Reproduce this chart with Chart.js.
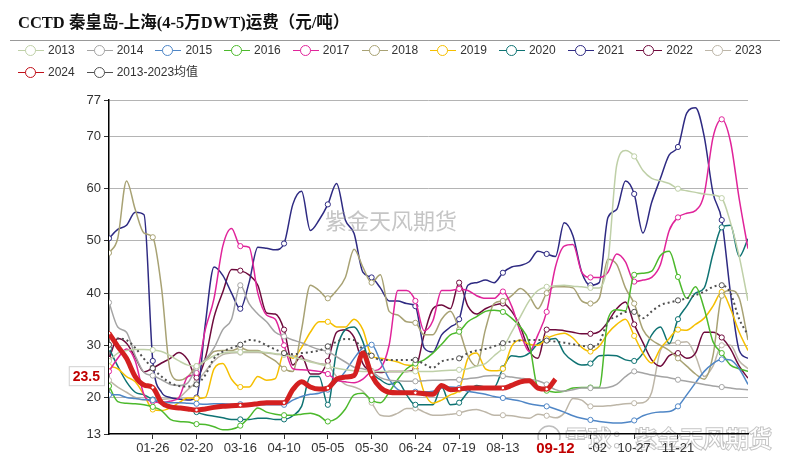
<!DOCTYPE html>
<html>
<head>
<meta charset="utf-8">
<script src="https://cdn.jsdelivr.net/npm/chart.js@4.4.1/dist/chart.umd.min.js"></script>
<style>
  html, body { margin: 0; padding: 0; background: #fff; }
  #wrap { position: relative; width: 789px; height: 460px; overflow: hidden; }
  #title { position: absolute; left: 18px; top: 9px; line-height: 22px; color: #111;
           font: bold 16.5px 'Liberation Serif', 'Noto Sans CJK SC', serif; white-space: nowrap; }
  #rule { position: absolute; left: 10px; top: 40px; width: 770px; height: 1px; background: #999; }
  .item { position: absolute; height: 20px; white-space: nowrap; color: #333;
          font: 12px 'Liberation Sans', 'Noto Sans CJK SC', sans-serif; }
  .sym { position: absolute; left: 0; top: 10px; width: 26px; height: 0; border-top: 1.5px solid; }
  .dot { position: absolute; left: 7px; top: -6.5px; width: 9px; height: 9px; border: 1.3px solid;
         border-radius: 50%; background: #fff; }
  .lbl { position: absolute; left: 30px; top: 1px; line-height: 19px; }
  canvas { position: absolute; left: 0; top: 0; }
</style>
</head>
<body>
<div id="wrap">
  <canvas id="c" width="789" height="460"></canvas>
  <div id="title">CCTD 秦皇岛-上海(4-5万DWT)运费（元/吨）</div>
  <div id="rule"></div>
  <div id="legend"></div>
</div>
<script>
// day-of-year grid (every 5 days), x axis is day of year
const days = Array.from({ length: 74 }, (_, i) => i * 5);
const tickDays = [25, 50, 75, 100, 125, 150, 175, 200, 225, 250, 275, 300, 325];
const tickLabels = ['01-26', '02-20', '03-16', '04-10', '05-05', '05-30', '06-24',
                    '07-19', '08-13', '09-07', '10-02', '10-27', '11-21'];
const yTicks = [13, 20, 30, 40, 50, 60, 70, 77];
const lastDate = '09-12';

const y2013 = [27, 28.5, 29, 29.2, 29.2, 29.1, 28.8, 28, 27, 26.2,
  26, 27, 28, 28.5, 28.7, 28.7, 28.8, 28.8, 28.6, 28.4,
  28.2, 27.8, 27.3, 26.8, 26.4, 26, 25.6, 25.3, 25.1, 25,
  25, 25, 25, 25, 25, 25, 25, 25, 25.1, 25.2,
  25.3, 25.5, 26, 26.5, 28, 29.5, 32.5, 35.5, 38.5, 40.5,
  41.2, 41.4, 41.5, 41.3, 41.2, 41, 41, 46, 64.5, 67.3,
  66.2, 63.5, 62, 61.5, 61, 60, 59.6, 59.3, 59, 58.8,
  58.2, 53.5, 47, 38.5];
const y2014 = [38.2, 33.5, 32.5, 28, 24.8, 24.2, 23.4, 22.5, 22.3, 22.8,
  25.7, 27.3, 29.5, 33, 35, 41.5, 38, 36, 34.5, 32.5,
  31.7, 31, 30.5, 29.8, 29.2, 28.8, 27.8, 26.8, 25.8, 25.5,
  25, 23.8, 23.3, 23.2, 23.1, 23.1, 23.2, 23.3, 23.3, 23.4,
  23.4, 23.6, 23.8, 24.1, 24.2, 24.1, 23.9, 23.7, 23.5, 23.2,
  22.5, 21.5, 21.2, 21.5, 21.8, 21.8, 21.8, 21.9, 22.5, 24,
  25, 24.7, 24.3, 24, 23.8, 23.4, 23.1, 22.8, 22.5, 22.2,
  22, 21.8, 21.6, 21.5];
const y2015 = [20.5, 20.5, 20, 19.8, 19.6, 19.5, 19.2, 19, 19, 18.9,
  18.8, 18.7, 18.8, 18.8, 18.7, 18.7, 18.6, 18.6, 18.6, 18.6,
  18.6, 19.5, 20.2, 20.6, 20.8, 21.5, 23, 25, 27.5, 29.5,
  30.1, 27, 23.5, 21.5, 21.1, 21.1, 21.1, 21.2, 21.8, 22,
  21.8, 21.2, 20.9, 20.6, 20.2, 19.9, 19.6, 19.3, 18.8, 18.5,
  18.3, 17.8, 17.2, 16.5, 16, 15.7, 15.4, 15.2, 15.1, 15.2,
  15.6, 16.5, 17, 17.2, 17.3, 18.3, 20.5, 22.8, 25, 26.5,
  27.3, 27.2, 25.5, 22.5];
const y2016 = [22.2, 19.2, 18.9, 18.8, 18.6, 18.2, 17.5, 15.8, 15.4, 15.3,
  14.9, 14.8, 14.4, 13.8, 13.9, 14.6, 16.2, 18, 17.2, 16.8,
  16.6, 16.6, 16.8, 17, 16.5, 15.4, 16, 17.8, 20.5, 20.8,
  19.5, 19, 21, 23.5, 25.5, 26.5, 27.2, 28.5, 30.2, 32,
  32.6, 34.5, 35.5, 36.5, 36.7, 36.4, 35.2, 33.5, 30.5, 21.8,
  21.3, 21, 21.2, 21.8, 21.9, 21.9, 21.9, 35, 36.8, 36.6,
  43.5, 43.8, 44.2, 47.2, 48, 43.1, 39, 41.2, 37, 30.7,
  28.5, 26.2, 25.5, 25];
const y2017 = [25, 27.5, 29.3, 27, 20.5, 19.2, 19, 19.3, 20, 24,
  24.7, 33, 39, 49, 52.4, 49, 48.8, 40, 35.8, 35,
  30, 25.5, 25.3, 25.2, 25, 24.5, 23.3, 23, 22.8, 23.5,
  25, 25.6, 30, 40.5, 40.5, 38.5, 32.8, 34.7, 40.5, 40.5,
  40.8, 40.5, 39.5, 39, 39, 40.3, 37.5, 32.5, 28.8, 32,
  36.4, 45, 49, 49.3, 44, 43, 43, 44, 47.5, 46,
  42.2, 42.5, 43, 45.5, 52, 54.5, 55.3, 55.8, 59, 69.8,
  73.3, 69, 58, 48.5];
const y2018 = [47.7, 50.5, 61.5, 56, 51.5, 50.7, 41, 25, 23.3, 24,
  26, 27, 28.8, 29, 29, 29.5, 29, 29, 28, 27,
  25.5, 25, 33, 41.5, 40.5, 39, 40.5, 43, 48.4, 45,
  42, 43.5, 36.5, 35.8, 34.5, 34.3, 32, 32, 35, 36.5,
  33, 28, 26, 33, 38, 38.5, 39.5, 40.9, 39.5, 37,
  40, 41.2, 41.2, 41, 38.5, 38, 39, 46.5, 45.5, 41,
  38, 33, 31, 30, 29, 27.5, 26, 24.5, 23.5, 28,
  39.5, 40.5, 39, 31];
const y2019 = [26, 25.5, 24, 23, 20.5, 17.7, 17.5, 18, 19, 19.9,
  19.8, 20, 25.5, 26.5, 23.5, 22, 22, 24, 23.3, 23.6,
  28.5, 27.5, 29.6, 32.5, 34.5, 34.5, 33.5, 33.5, 35, 33,
  28, 27.5, 27.2, 26.8, 26.2, 26, 21, 18.9, 19.5, 20.5,
  21.5, 27.5, 28.5, 25.5, 25.1, 25.5, 29.8, 31, 30.2, 30,
  31.3, 32, 32.3, 31.4, 29.6, 28.8, 29.8, 32.3, 34, 35,
  31.8, 28.5, 26.6, 29.4, 31.3, 33, 32.9, 34, 35.2, 37.5,
  40.2, 37, 32.5, 29];
const y2020 = [29.4, 26, 23, 21, 20.5, 19.6, 18.8, 18.4, 18.2, 17.9,
  17.2, 16.7, 16.4, 16.1, 15.8, 15.8, 15.8, 16, 16, 15.8,
  15.8, 16.5, 18.3, 24, 24, 18.6, 29, 33, 33.5, 30.7,
  25, 23.4, 22.5, 23, 20.5, 18.6, 18.6, 18.6, 22, 18.6,
  19, 21, 22.3, 22, 22, 25.6, 28, 27.8, 28.5, 30.3,
  31, 31.3, 28.5, 27, 26.2, 26.5, 28, 28.1, 28, 27.2,
  27, 28.5, 32, 33.5, 30.3, 35, 37.5, 40, 41, 47.5,
  52.6, 53, 47, 50.4];
const y2021 = [50.5, 52.2, 53, 55.5, 55, 27, 21, 20, 19.7, 19.5,
  20, 34, 45, 43.4, 40, 37, 42, 48.8, 48.6, 48.3,
  49.5, 57, 59.5, 52, 54, 57, 61, 54, 51.4, 44,
  43, 41, 38.5, 38.5, 38, 37.5, 29.5, 28.7, 32, 33.5,
  35, 41.5, 42, 42.5, 42, 43.9, 45, 45.3, 46, 48,
  47.5, 47, 53.5, 51, 44, 41.5, 42, 54.5, 56, 61.5,
  59, 51.5, 57.4, 62, 66.5, 68, 74.5, 75.5, 70, 59.2,
  54, 40, 29, 27.5];
const y2022 = [27.4, 31.3, 30.4, 27.7, 24.9, 25.6, 26.6, 27.5, 28.6, 27.2,
  23.8, 27.5, 35.4, 40.2, 44.5, 44.3, 43.5, 41.5, 36.2, 36,
  33, 26.2, 28, 24.5, 24.5, 27, 32.5, 33, 31.5, 26.5,
  25, 24.8, 25, 25, 25, 25.5, 32, 37, 37.7, 37,
  42, 37.5, 36, 37, 37.7, 38, 36.5, 33.5, 29, 27.5,
  33, 33, 32.8, 32.5, 32.2, 32.2, 32.6, 34.5, 37, 38.3,
  34, 30.5, 27.2, 26, 28, 28.5, 27.5, 28.5, 32.5, 32.5,
  31.5, 29.3, 26, 23.7];
const y2023 = [23.3, 22, 21, 20, 19.5, 19.5, 19.6, 19.8, 20, 21.5,
  23, 25, 27, 28.2, 28.5, 28.6, 28.6, 28.6, 28.5, 28.3,
  28.2, 28, 27.5, 27, 26.5, 26.2, 24, 22.5, 22, 21.2,
  19, 16.6, 16.4, 17, 17.9, 17.9, 17.2, 16.6, 16.6, 16.8,
  17, 17.5, 17.7, 17.2, 16.6, 16.6, 16.5, 16.2, 16, 16.8,
  16.5, 16.1, 17, 19.8, 19.5, 18.3, 18.3, 18.4, 18.6, 18.8,
  18.9, 19, 21, 29, 30.3, 30.5, 30.7, 28, 24, 26,
  30, 30, 27, 25.5];
const y2024 = [32.3, 29.8, 27.5, 24, 22.4, 21.9, 19, 18.2, 18, 17.8,
  17.6, 17.8, 18.1, 18.3, 18.4, 18.5, 18.6, 18.8, 19, 19,
  19, 21.5, 23, 22, 21.6, 21.8, 23.5, 23.9, 24.2, 28.5,
  24.3, 21.9, 21, 20.9, 20.9, 20.9, 20.7, 20.6, 22.3, 21.5,
  21.6, 21.8, 21.8, 21.8, 21.8, 21.8, 22.3, 23, 23.2, 21.8,
  21.6, 23.5];
const avg1323 = [30.1, 31.3, 31, 29.5, 27.4, 25.6, 24, 22.8, 22.2, 22.1,
  22.5, 24.3, 27.5, 28.8, 29.5, 30.1, 31, 30.8, 30, 29.2,
  28.5, 28.3, 28.5, 28.7, 29, 29.8, 30.7, 31.2, 31, 29.2,
  28, 27.2, 27.2, 27.2, 27.2, 27.2, 26.4, 25.7, 26.9, 27.3,
  27.5, 28.5, 29, 29.3, 29.8, 30.4, 30.7, 30.9, 31, 31,
  30.9, 30.7, 30.5, 30.2, 29.9, 29.7, 30.5, 34.5, 35.5, 36.4,
  36.4, 35.2, 36.5, 37.7, 38.2, 38.6, 39, 39.6, 40.3, 41.2,
  41.5, 40, 35, 32];

const series = [
  { name: '2013', values: y2013, color: '#bfd0a8' },
  { name: '2014', values: y2014, color: '#a4a4a4' },
  { name: '2015', values: y2015, color: '#4f86c6' },
  { name: '2016', values: y2016, color: '#4cb92c' },
  { name: '2017', values: y2017, color: '#e0249a' },
  { name: '2018', values: y2018, color: '#a8a274' },
  { name: '2019', values: y2019, color: '#f5bf00' },
  { name: '2020', values: y2020, color: '#0f7373' },
  { name: '2021', values: y2021, color: '#2e2a82' },
  { name: '2022', values: y2022, color: '#6e0a3c' },
  { name: '2023', values: y2023, color: '#bdb6a8' },
  { name: '2024', values: y2024, color: '#d42020', legendColor: '#c0101a' },
  { name: '2013-2023均值', values: avg1323, color: '#505050' }
];

// legend
const legend = document.getElementById('legend');
series.forEach((s, i) => {
  const row = i < 11 ? 0 : 1;
  const col = i < 11 ? i : i - 11;
  const c = s.legendColor || s.color;
  const el = document.createElement('div');
  el.className = 'item';
  el.style.left = (18 + col * 68.7) + 'px';
  el.style.top = (40 + row * 22) + 'px';
  el.innerHTML = '<div class="sym" style="border-color:' + c + '"><div class="dot" style="border-color:' + c + '"></div></div>' +
                 '<span class="lbl">' + s.name + '</span>';
  legend.appendChild(el);
});

const datasets = series.map((s, i) => {
  const is2024 = s.name === '2024';
  const isAvg = i === series.length - 1;
  return {
    label: s.name,
    data: s.values.map((v, k) => ({ x: days[k], y: v })),
    borderColor: s.color,
    borderWidth: is2024 ? 5 : (isAvg ? 2 : 1.5),
    borderDash: isAvg ? [2, 3] : [],
    pointRadius: ctx => (ctx.raw && ctx.raw.x % 25 === 0) ? (is2024 ? 1.8 : 2.6) : 0,
    pointBackgroundColor: '#fff',
    pointBorderColor: s.color,
    pointBorderWidth: 1,
    cubicInterpolationMode: 'monotone',
    fill: false,
    order: is2024 ? 0 : (isAvg ? 1 : 2 + i)
  };
});

const FONT = "'Liberation Sans', Arial, sans-serif";

const overlay = {
  id: 'overlay',
  beforeDraw(chart) {
    // bottom-right watermark, under the axis labels
    const ctx = chart.ctx;
    ctx.save();
    ctx.beginPath();
    ctx.arc(549, 437, 11, 0, Math.PI * 2);
    ctx.strokeStyle = '#bdbdbd';
    ctx.lineWidth = 1.5;
    ctx.stroke();
    ctx.font = "23px 'Noto Sans CJK SC', sans-serif";
    ctx.textBaseline = 'middle';
    ctx.lineWidth = 2;
    ctx.strokeStyle = '#c4c4c4';
    ctx.strokeText('雪球：紫金天风期货', 565, 438);
    ctx.fillStyle = '#fff';
    ctx.fillText('雪球：紫金天风期货', 565, 438);
    ctx.restore();
  },
  afterDatasetsDraw(chart) {
    const ctx = chart.ctx;
    ctx.save();
    ctx.font = "22px 'Noto Sans CJK SC', sans-serif";
    ctx.fillStyle = 'rgba(150,150,150,0.55)';
    ctx.textBaseline = 'middle';
    ctx.fillText('紫金天风期货', 325, 221);
    ctx.restore();
  },
  afterDraw(chart) {
    const { ctx, scales: { x, y } } = chart;
    ctx.save();
    // latest value box on the y axis
    const lastVal = y2024[y2024.length - 1];
    const lastDay = days[y2024.length - 1];
    const py = y.getPixelForValue(lastVal) - 3;
    ctx.font = 'bold 14px ' + FONT;
    const txt = String(lastVal);
    const w = ctx.measureText(txt).width + 8;
    ctx.fillStyle = '#fff';
    ctx.fillRect(104 - w, py - 10, w, 20);
    ctx.strokeStyle = '#d0d0d0';
    ctx.lineWidth = 1;
    ctx.strokeRect(104 - w + 0.5, py - 9.5, w, 19);
    ctx.fillStyle = '#c00000';
    ctx.textAlign = 'center';
    ctx.textBaseline = 'middle';
    ctx.fillText(txt, 104 - w / 2, py + 0.5);

    // latest date label on the x axis
    const px = x.getPixelForValue(lastDay);
    ctx.fillStyle = '#fff';
    ctx.fillRect(px - 27, 440, 60, 18);
    ctx.font = 'bold 15px ' + FONT;
    ctx.fillStyle = '#c00000';
    ctx.fillText(lastDate, px, 449);
    ctx.restore();
  }
};

new Chart(document.getElementById('c'), {
  type: 'line',
  data: { datasets },
  plugins: [overlay],
  options: {
    responsive: false,
    animation: false,
    events: [],
    layout: { padding: { left: 0, right: 41, top: 100, bottom: 0 } },
    plugins: { legend: { display: false }, tooltip: { enabled: false } },
    scales: {
      x: {
        type: 'linear', min: 0, max: 365,
        afterBuildTicks: s => { s.ticks = tickDays.map(v => ({ value: v })); },
        afterFit: s => { s.height = 26; },
        grid: { drawOnChartArea: false, drawTicks: true, tickLength: 5, tickColor: '#333' },
        border: { color: '#000', width: 1.5 },
        ticks: {
          autoSkip: false, maxRotation: 0, padding: 2, color: '#333',
          font: { family: FONT, size: 13 },
          callback: v => tickLabels[tickDays.indexOf(v)] || ''
        }
      },
      y: {
        min: 13, max: 77,
        afterBuildTicks: s => { s.ticks = yTicks.map(v => ({ value: v })); },
        afterFit: s => { s.width = 109; },
        grid: {
          color: ctx => (ctx.tick && ctx.tick.value === 13) ? 'rgba(0,0,0,0)' : '#b4b4b4',
          tickColor: '#333', tickLength: 5
        },
        border: { color: '#000', width: 1.5 },
        ticks: { padding: 3, color: '#333', font: { family: FONT, size: 13 } }
      }
    }
  }
});
</script>
</body>
</html>
